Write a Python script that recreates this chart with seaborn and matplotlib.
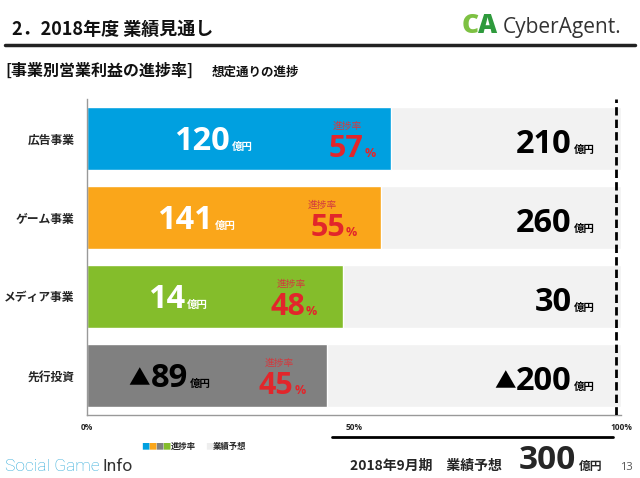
import matplotlib
matplotlib.use("Agg")
import matplotlib.pyplot as plt
from matplotlib.lines import Line2D
import seaborn as sns

categories = ["広告事業", "ゲーム事業", "メディア事業", "先行投資"]
progress = [57, 55, 48, 45]
actual = [120, 141, 14, -89]
forecast = [210, 260, 30, -200]
bar_colors = ["#00a0e0", "#faa61a", "#84bd2b", "#808080"]
total_forecast = 300

JP = ["Noto Sans CJK JP", "DejaVu Sans"]
NUM = ["Open Sans", "Noto Sans CJK JP", "DejaVu Sans"]
RED = "#e2262b"


def px(x, y):
    return x / 640, 1 - y / 478


def big_number(ax, x, y, v, color):
    # number, with a smaller ▲ in front when negative
    t = ax.text(x, y, str(abs(v)), ha="right", va="baseline", fontsize=23.5,
                fontweight="bold", color=color, family=NUM)
    if v < 0:
        ax.annotate("▲", xy=(0, 0.5), xycoords=t, xytext=(-0.5, -1),
                    textcoords="offset points", ha="right", va="center",
                    fontsize=15.5, color=color)
    ax.text(x + 0.3, y, "億円", ha="left", va="baseline", fontsize=7.5,
            fontweight="bold", color=color)


def main():
    sns.set_style("white")
    plt.rcParams["font.family"] = JP

    fig = plt.figure(figsize=(6.4, 4.78), dpi=100)
    ax = fig.add_axes([87 / 640, 63 / 478, 534 / 640, 316 / 478])

    sns.barplot(x=[100] * len(categories), y=categories, color="#f2f2f2",
                width=0.81, saturation=1, ax=ax)
    sns.barplot(x=progress, y=categories, hue=categories, palette=bar_colors,
                width=0.81, saturation=1, legend=False, ax=ax)

    ax.set_xlim(0, 100)
    ax.set_ylim(3.5, -0.5)
    ax.axvline(99, color="black", lw=2, ls=(0, (3, 1.5)), zorder=5)

    # labels inside the bars
    num_x = [26.8, 23.6, 18.4, 18.9]
    pct_x = [51.7, 48.3, 40.8, 38.6]
    lab_x = [48.7, 44.0, 38.2, 36.0]
    for i in range(len(categories)):
        c = "black" if actual[i] < 0 else "white"
        big_number(ax, num_x[i], i + 0.14, actual[i], c)
        ax.text(lab_x[i], i - 0.12, "進捗率", ha="center", va="baseline",
                fontsize=7, color="#d23a3f")
        ax.text(pct_x[i], i + 0.24, str(progress[i]), ha="right", va="baseline",
                fontsize=22, fontweight="bold", color=RED, family=NUM)
        ax.text(pct_x[i] + 0.2, i + 0.24, "%", ha="left", va="baseline",
                fontsize=9, fontweight="bold", color=RED, family=NUM)
        big_number(ax, 90.8, i + 0.18, forecast[i], "black")

    sns.despine(ax=ax)
    for s in ["left", "bottom"]:
        ax.spines[s].set_color("#999999")
        ax.spines[s].set_linewidth(1)
    ax.set_xticks([0, 50, 100])
    ax.set_xticklabels(["0%", "50%", "100%"], fontsize=6, fontweight="bold",
                       family=NUM)
    ax.set_yticks(range(len(categories)))
    ax.set_yticklabels(categories, fontsize=8.5, fontweight="bold")
    ax.set_yticks([-0.5, 0.5, 1.5, 2.5, 3.5], minor=True)
    ax.tick_params(axis="y", which="major", length=0, pad=9)
    ax.tick_params(axis="y", which="minor", length=4, color="#999999", width=1)
    ax.tick_params(axis="x", length=3, color="#999999", width=1, pad=3)
    ax.set_xlabel("")
    ax.set_ylabel("")

    # header
    fig.text(*px(12, 35), "2．2018年度 業績見通し", fontsize=13, fontweight="bold",
             va="baseline", color="#111111")
    fig.add_artist(Line2D([5 / 640, 635 / 640], [1 - 45 / 478] * 2,
                          color="#222222", lw=2.5))
    fig.text(*px(5, 76), "[事業別営業利益の進捗率]", fontsize=11.5,
             fontweight="bold", va="baseline", color="#111111")
    fig.text(*px(212, 76), "想定通りの進捗", fontsize=9, fontweight="bold",
             va="baseline", color="#111111")
    fig.text(*px(462, 33), "C", fontsize=19, fontweight="heavy", va="baseline",
             color="#7dc142", family=NUM)
    fig.text(*px(478, 33), "A", fontsize=19, fontweight="heavy", va="baseline",
             color="#2e9a3c", family=NUM)
    fig.text(*px(503, 33), "CyberAgent.", fontsize=15, va="baseline",
             color="#333333", family=["Open Sans"])

    # legend
    sq = [(141, "#00a0e0"), (148, "#faa61a"), (155, "#808080"), (162, "#84bd2b")]
    for x, c in sq:
        fig.text(*px(x, 449), "■", fontsize=6, color=c, va="baseline")
    fig.text(*px(171, 449), "進捗率", fontsize=6, va="baseline", fontweight="bold")
    fig.text(*px(205, 449), "■", fontsize=6, color="#eeeeee", va="baseline")
    fig.text(*px(213, 449), "業績予想", fontsize=6, va="baseline", fontweight="bold")

    # footer
    fig.add_artist(Line2D([332 / 640, 613 / 640], [1 - 437 / 478] * 2,
                          color="black", lw=2))
    fig.text(*px(350, 470), "2018年9月期　業績予想", fontsize=10, fontweight="bold",
             va="baseline")
    fig.text(*px(576, 469), str(total_forecast), fontsize=24, fontweight="bold",
             va="baseline", ha="right", family=NUM)
    fig.text(*px(579, 470), "億円", fontsize=8.5, fontweight="bold", va="baseline")
    fig.text(*px(620, 470), "13", fontsize=8, va="baseline", color="#555555",
             family=NUM)
    fig.text(*px(5, 471), "Social Game", fontsize=12.5, va="baseline",
             color="#2aa8d8", family=["Roboto"], fontweight="light")
    fig.text(*px(102, 471), "Info", fontsize=12.5, va="baseline",
             color="#333333", family=["Roboto"])

    fig.savefig("out.png", dpi=100)


if __name__ == "__main__":
    main()
